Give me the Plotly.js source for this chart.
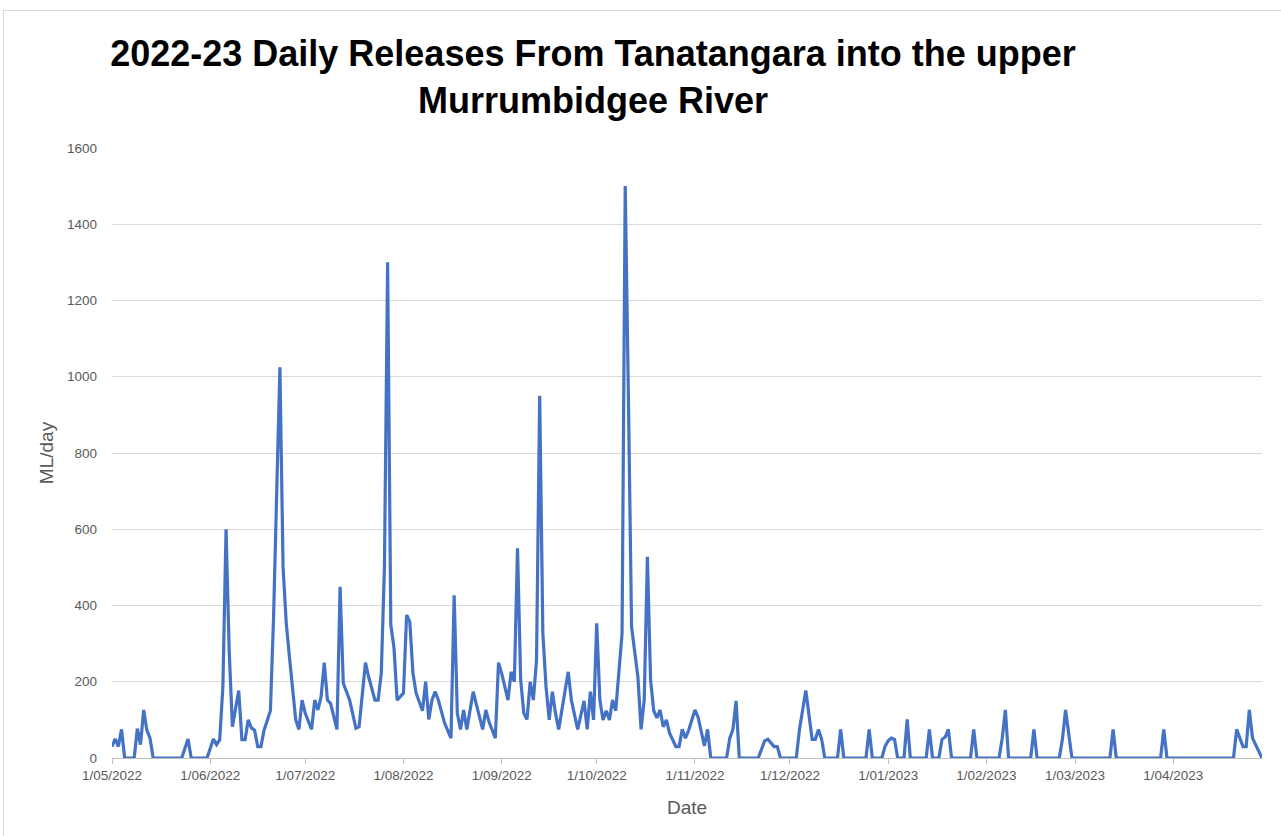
<!DOCTYPE html>
<html><head><meta charset="utf-8">
<script src="https://cdn.plot.ly/plotly-3.0.1.min.js"></script>
<style>
html,body{margin:0;padding:0;background:#fff;overflow:hidden}
#chart{position:absolute;left:0;top:0;width:1281px;height:836px}
#frame{position:absolute;left:3px;top:10px;width:1290px;height:840px;border:1px solid #d9d9d9;pointer-events:none}
</style></head><body>
<div id="chart"></div><div id="frame"></div>
<script>
const releaseDates = [
'2022-05-01','2022-05-02','2022-05-03','2022-05-04','2022-05-05','2022-05-08','2022-05-09','2022-05-10','2022-05-11','2022-05-12','2022-05-13','2022-05-14',
'2022-05-23','2022-05-24','2022-05-25','2022-05-26','2022-05-31',
'2022-06-02','2022-06-03','2022-06-04','2022-06-05','2022-06-06','2022-06-07','2022-06-08','2022-06-10','2022-06-11','2022-06-12','2022-06-13','2022-06-14','2022-06-15','2022-06-16','2022-06-17','2022-06-18','2022-06-20','2022-06-21','2022-06-22','2022-06-23','2022-06-24','2022-06-25','2022-06-26','2022-06-28','2022-06-29','2022-06-30',
'2022-07-01','2022-07-03','2022-07-04','2022-07-05','2022-07-06','2022-07-07','2022-07-08','2022-07-09','2022-07-11','2022-07-12','2022-07-13','2022-07-15','2022-07-17','2022-07-18','2022-07-20','2022-07-21','2022-07-23','2022-07-24','2022-07-25','2022-07-26','2022-07-27','2022-07-28','2022-07-29','2022-07-30',
'2022-08-01','2022-08-02','2022-08-03','2022-08-04','2022-08-05','2022-08-07','2022-08-08','2022-08-09','2022-08-10','2022-08-11','2022-08-12','2022-08-14','2022-08-16','2022-08-17','2022-08-18','2022-08-19','2022-08-20','2022-08-21','2022-08-23','2022-08-24','2022-08-26','2022-08-27','2022-08-28','2022-08-30','2022-08-31',
'2022-09-01','2022-09-03','2022-09-04','2022-09-05','2022-09-06','2022-09-07','2022-09-08','2022-09-09','2022-09-10','2022-09-11','2022-09-12','2022-09-13','2022-09-14','2022-09-15','2022-09-16','2022-09-17','2022-09-18','2022-09-19','2022-09-22','2022-09-23','2022-09-25','2022-09-27','2022-09-28','2022-09-29','2022-09-30',
'2022-10-01','2022-10-02','2022-10-03','2022-10-04','2022-10-05','2022-10-06','2022-10-07','2022-10-09','2022-10-10','2022-10-11','2022-10-12','2022-10-14','2022-10-15','2022-10-16','2022-10-17','2022-10-18','2022-10-19','2022-10-20','2022-10-21','2022-10-22','2022-10-23','2022-10-24','2022-10-26','2022-10-27','2022-10-28','2022-10-29','2022-10-30',
'2022-11-01','2022-11-02','2022-11-04','2022-11-05','2022-11-06','2022-11-11','2022-11-12','2022-11-13','2022-11-14','2022-11-15','2022-11-21','2022-11-23','2022-11-24','2022-11-26','2022-11-27','2022-11-28',
'2022-12-03','2022-12-04','2022-12-06','2022-12-08','2022-12-09','2022-12-10','2022-12-11','2022-12-12','2022-12-16','2022-12-17','2022-12-18','2022-12-25','2022-12-26','2022-12-27','2022-12-30','2022-12-31',
'2023-01-01','2023-01-02','2023-01-03','2023-01-04','2023-01-06','2023-01-07','2023-01-08','2023-01-13','2023-01-14','2023-01-15','2023-01-17','2023-01-18','2023-01-19','2023-01-20','2023-01-21','2023-01-27','2023-01-28','2023-01-29',
'2023-02-05','2023-02-06','2023-02-07','2023-02-08','2023-02-15','2023-02-16','2023-02-17','2023-02-24','2023-02-25','2023-02-26','2023-02-28',
'2023-03-12','2023-03-13','2023-03-14','2023-03-28','2023-03-29','2023-03-30',
'2023-04-20','2023-04-21','2023-04-23','2023-04-24','2023-04-25','2023-04-26','2023-04-28','2023-04-29'
];
const releaseValues = [
30,50,30,75,0,0,77,35,126,73,52,0,
0,25,50,0,0,
50,35,48,187,600,280,82,177,48,48,100,79,73,30,30,73,124,370,700,1025,500,354,266,100,75,152,
117,75,152,126,161,250,152,143,75,449,196,152,78,82,250,213,152,152,222,502,1300,350,290,152,
170,375,357,222,170,124,200,101,152,174,152,91,52,427,117,75,126,75,174,143,75,126,95,52,250,
222,152,226,200,550,205,117,101,200,152,257,950,327,187,100,174,117,75,226,152,75,150,75,174,100,
353,152,100,124,100,152,124,327,1500,950,344,213,75,152,528,205,124,105,126,82,100,65,30,30,75,52,72,
126,107,32,75,0,0,52,75,150,0,0,45,49,30,30,0,
0,75,177,49,49,75,49,0,0,75,0,0,75,0,0,30,
45,52,49,0,0,101,0,0,75,0,0,49,55,75,0,0,75,0,
0,52,126,0,0,75,0,0,49,126,0,
0,75,0,0,75,0,
0,75,30,30,126,52,17,0
];
const tickDates = ['2022-05-01','2022-06-01','2022-07-01','2022-08-01','2022-09-01','2022-10-01','2022-11-01','2022-12-01','2023-01-01','2023-02-01','2023-03-01','2023-04-01'];
const tickLabels = ['1/05/2022','1/06/2022','1/07/2022','1/08/2022','1/09/2022','1/10/2022','1/11/2022','1/12/2022','1/01/2023','1/02/2023','1/03/2023','1/04/2023'];
const yTicks = [0,200,400,600,800,1000,1200,1400,1600];

const grey = '#595959';
const tickFont = {family:'Liberation Sans, Arial, sans-serif', size:13.5, color:grey};

const trace = {
  x: releaseDates, y: releaseValues, type:'scatter', mode:'lines',
  line:{color:'#4472C4', width:3.2}, hoverinfo:'x+y'
};
const layout = {
  width:1281, height:836,
  margin:{l:112, r:19, t:148, b:78},
  paper_bgcolor:'#ffffff', plot_bgcolor:'#ffffff',
  showlegend:false,
  title:{
    text:'2022-23 Daily Releases From Tanatangara into the upper<br>Murrumbidgee River',
    font:{family:'Liberation Sans, Arial, sans-serif', size:36, weight:700, color:'#000000'},
    xref:'container', x:593/1281, xanchor:'center',
    yref:'container', y:1-66/836, yanchor:'top'
  },
  xaxis:{
    type:'date', range:['2022-05-01','2023-04-29'],
    tickvals:tickDates, ticktext:tickLabels, tickangle:0,
    tickfont:tickFont,
    showgrid:false, zeroline:false,
    showline:true, linecolor:'#bfbfbf', linewidth:1,
    ticks:'outside', ticklen:5, tickcolor:'#bfbfbf',
    title:{text:'Date', font:{family:'Liberation Sans, Arial, sans-serif', size:19, color:grey}, standoff:18},
    automargin:false
  },
  yaxis:{
    range:[0,1600], tickvals:yTicks,
    tickfont:tickFont,
    showgrid:true, gridcolor:'#d9d9d9', gridwidth:1,
    zeroline:false, showline:false, ticks:'',
    ticklabelstandoff:14,
    title:{text:'ML/day', font:{family:'Liberation Sans, Arial, sans-serif', size:19, color:grey}, standoff:8},
    automargin:false
  }
};
Plotly.newPlot('chart',[trace],layout,{displayModeBar:false, staticPlot:true});
</script>
</body></html>
